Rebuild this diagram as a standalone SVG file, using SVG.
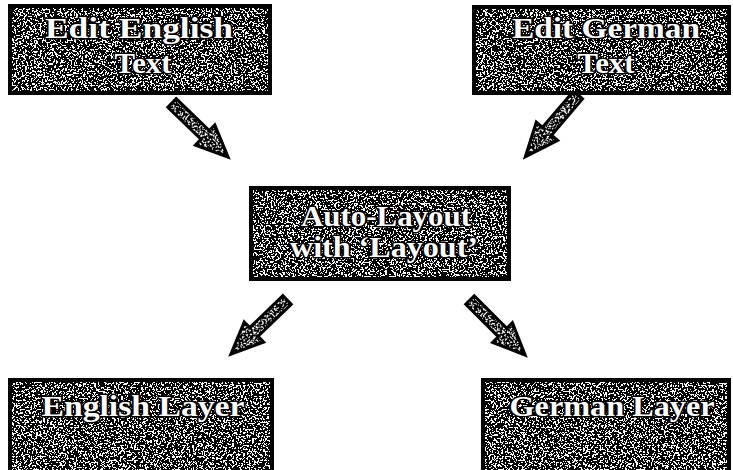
<svg xmlns="http://www.w3.org/2000/svg" xmlns:xlink="http://www.w3.org/1999/xlink" width="733" height="470" viewBox="0 0 733 470">
<style>
.bg{fill:#000;filter:url(#noise)}
.frame{fill:none;stroke:#000;stroke-width:4}
.lbl{font-family:"Liberation Serif","DejaVu Serif",serif;font-weight:bold;font-size:29px;fill:#fff;stroke:#000;stroke-width:3;paint-order:stroke;stroke-linejoin:round;text-anchor:middle}
.afill{fill:#000;filter:url(#noise)}
.aline{fill:none;stroke:#000;stroke-width:3;stroke-linejoin:miter}
</style>
<defs>
<filter id="noise" x="0" y="0" width="100%" height="100%" color-interpolation-filters="sRGB">
<feTurbulence type="fractalNoise" baseFrequency="0.55" numOctaves="2" seed="7" result="t"/>
<feColorMatrix in="t" type="matrix" values="1 0 0 0 0  1 0 0 0 0  1 0 0 0 0  0 0 0 0 1" result="g"/>
<feComponentTransfer in="g" result="b">
<feFuncR type="discrete" tableValues="0 0 0 0 0 1 1 1 1"/>
<feFuncG type="discrete" tableValues="0 0 0 0 0 1 1 1 1"/>
<feFuncB type="discrete" tableValues="0 0 0 0 0 1 1 1 1"/>
</feComponentTransfer>
<feComposite in="b" in2="SourceGraphic" operator="in"/>
</filter>
<path id="arrow" d="M0,-6 L46,-6 L46,-14 L78,0 L46,14 L46,6 L0,6 Z"/>
</defs>
<rect width="733" height="470" fill="#fff"/>
<g id="connectors">
<g transform="translate(172,103) rotate(44)"><use href="#arrow" class="afill"/><use href="#arrow" class="aline"/></g>
<g transform="translate(578,95) rotate(130.5) scale(1.04,1)"><use href="#arrow" class="afill"/><use href="#arrow" class="aline"/></g>
<g transform="translate(287,300) rotate(136)"><use href="#arrow" class="afill"/><use href="#arrow" class="aline"/></g>
<g transform="translate(470,300) rotate(45)"><use href="#arrow" class="afill"/><use href="#arrow" class="aline"/></g>
</g>
<g id="edit-english">
<rect class="bg" x="10" y="6" width="260" height="87"/>
<rect class="frame" x="10" y="6" width="260" height="87"/>
<text class="lbl" x="139" y="38" textLength="188" lengthAdjust="spacingAndGlyphs">Edit English</text>
<text class="lbl" x="143" y="73" textLength="57" lengthAdjust="spacingAndGlyphs">Text</text>
</g>
<g id="edit-german">
<rect class="bg" x="474" y="7" width="255" height="86"/>
<rect class="frame" x="474" y="7" width="255" height="86"/>
<text class="lbl" x="606" y="38" textLength="188" lengthAdjust="spacingAndGlyphs">Edit German</text>
<text class="lbl" x="606" y="73" textLength="57" lengthAdjust="spacingAndGlyphs">Text</text>
</g>
<g id="auto-layout">
<rect class="bg" x="251" y="188" width="258" height="91"/>
<rect class="frame" x="251" y="188" width="258" height="91"/>
<text class="lbl" x="386" y="226" textLength="170" lengthAdjust="spacingAndGlyphs">Auto-Layout</text>
<text class="lbl" x="384" y="257" textLength="188" lengthAdjust="spacingAndGlyphs">with ‘Layout’</text>
</g>
<g id="english-layer">
<rect class="bg" x="10" y="380" width="262" height="95"/>
<rect class="frame" x="10" y="380" width="262" height="95"/>
<text class="lbl" x="143" y="416" textLength="203" lengthAdjust="spacingAndGlyphs">English Layer</text>
</g>
<g id="german-layer">
<rect class="bg" x="483" y="380" width="246" height="95"/>
<rect class="frame" x="483" y="380" width="246" height="95"/>
<text class="lbl" x="612" y="416" textLength="205" lengthAdjust="spacingAndGlyphs">German Layer</text>
</g>
</svg>
